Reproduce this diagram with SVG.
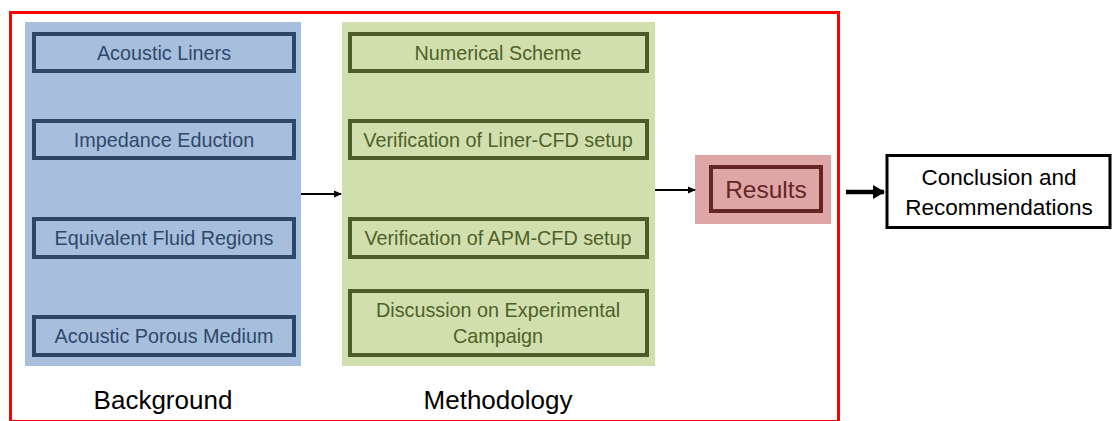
<svg xmlns="http://www.w3.org/2000/svg" width="1112" height="421" viewBox="0 0 1112 421">
  <defs>
    <marker id="arrowThin" markerWidth="8" markerHeight="8" refX="7" refY="4" orient="auto" markerUnits="userSpaceOnUse">
      <path d="M0,0.5 L8,4 L0,7.5 Z" fill="#000"/>
    </marker>
    <marker id="arrowThick" markerWidth="12" markerHeight="14" refX="11" refY="7" orient="auto" markerUnits="userSpaceOnUse">
      <path d="M0,0 L12,7 L0,14 Z" fill="#000"/>
    </marker>
  </defs>
  <style>
    text { font-family: "Liberation Sans", Arial, sans-serif; text-anchor: middle; }
    .bgPanel { fill: #a7bfdd; }
    .bgBox { fill: none; stroke: #2e4767; stroke-width: 4; }
    .bgText { fill: #30486a; font-size: 19.8px; }
    .mePanel { fill: #d1dfaf; }
    .meBox { fill: none; stroke: #4c5c29; stroke-width: 4; }
    .meText { fill: #4f6128; font-size: 19.8px; }
    .reBox { fill: none; stroke: #642625; stroke-width: 4; }
    .label { fill: #000; font-size: 26px; }
    .conn { stroke: #000; fill: none; }
  </style>

  <rect width="1112" height="421" fill="#fff"/>

  <!-- outer frame -->
  <rect x="10.5" y="12.5" width="828" height="409" fill="none" stroke="#ff0000" stroke-width="3"/>

  <!-- Background column -->
  <g id="background">
    <rect class="bgPanel" x="25" y="22" width="276" height="344"/>
    <g id="acoustic-liners">
      <rect class="bgBox" x="34" y="34" width="260" height="37"/>
      <text class="bgText" x="164" y="59.5">Acoustic Liners</text>
    </g>
    <g id="impedance-eduction">
      <rect class="bgBox" x="34" y="121" width="260" height="37"/>
      <text class="bgText" x="164" y="146.5">Impedance Eduction</text>
    </g>
    <g id="equivalent-fluid-regions">
      <rect class="bgBox" x="34" y="219" width="260" height="38"/>
      <text class="bgText" x="164" y="245">Equivalent Fluid Regions</text>
    </g>
    <g id="acoustic-porous-medium">
      <rect class="bgBox" x="34" y="317" width="260" height="38"/>
      <text class="bgText" x="164" y="343">Acoustic Porous Medium</text>
    </g>
    <text class="label" x="163" y="409">Background</text>
  </g>

  <!-- Methodology column -->
  <g id="methodology">
    <rect class="mePanel" x="342" y="22" width="313" height="344"/>
    <g id="numerical-scheme">
      <rect class="meBox" x="350" y="34" width="297" height="37"/>
      <text class="meText" x="498" y="59.5">Numerical Scheme</text>
    </g>
    <g id="verification-liner">
      <rect class="meBox" x="350" y="121" width="297" height="37"/>
      <text class="meText" x="498" y="146.5">Verification of Liner-CFD setup</text>
    </g>
    <g id="verification-apm">
      <rect class="meBox" x="350" y="219" width="297" height="38"/>
      <text class="meText" x="498" y="245">Verification of APM-CFD setup</text>
    </g>
    <g id="experimental-campaign">
      <rect class="meBox" x="350" y="291" width="297" height="64"/>
      <text class="meText" x="498" y="317">Discussion on Experimental</text>
      <text class="meText" x="498" y="343">Campaign</text>
    </g>
    <text class="label" x="498" y="409">Methodology</text>
  </g>

  <!-- Results -->
  <g id="results">
    <rect x="695" y="155" width="136" height="69" fill="#dea6a5"/>
    <rect class="reBox" x="711" y="167" width="110" height="44"/>
    <text x="766" y="198" fill="#642625" font-size="24.5px">Results</text>
  </g>

  <!-- Conclusion -->
  <g id="conclusion">
    <rect x="887" y="155.5" width="223" height="72" fill="#fff" stroke="#000" stroke-width="3"/>
    <text x="999" y="184.5" font-size="22.5px">Conclusion and</text>
    <text x="999" y="215" font-size="22.5px">Recommendations</text>
  </g>

  <!-- connectors -->
  <g id="connectors">
    <line class="conn" x1="301" y1="194" x2="341" y2="194" stroke-width="2" marker-end="url(#arrowThin)"/>
    <line class="conn" x1="655" y1="190" x2="695" y2="190" stroke-width="2" marker-end="url(#arrowThin)"/>
    <line class="conn" x1="846" y1="192" x2="884" y2="192" stroke-width="4.5" marker-end="url(#arrowThick)"/>
  </g>
</svg>
